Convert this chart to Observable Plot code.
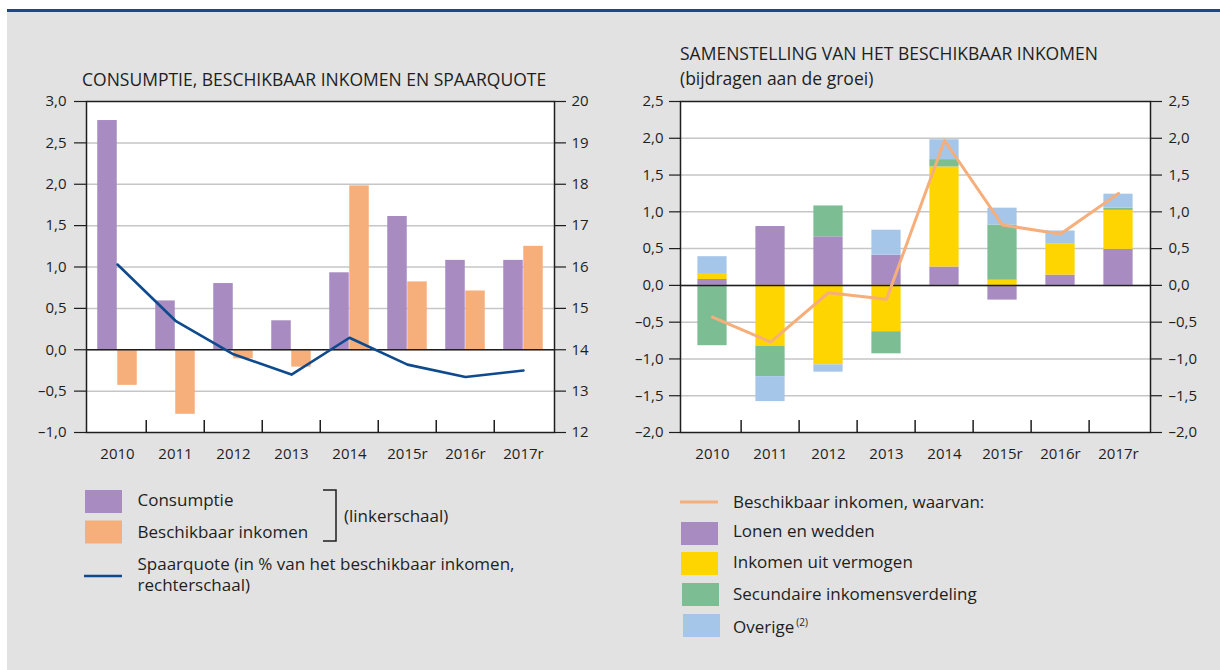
<!DOCTYPE html>
<html><head><meta charset="utf-8">
<script src="https://cdn.jsdelivr.net/npm/d3@7"></script>
<script src="https://cdn.jsdelivr.net/npm/@observablehq/plot@0.6"></script>
<style>
html,body{margin:0;padding:0;background:#fff;}
#root{position:relative;width:1220px;height:670px;overflow:hidden;font-family:"Open Sans",sans-serif;}
#bg{position:absolute;left:7px;top:12px;width:1213px;height:658px;background:#e2e2e2;}
#rule{position:absolute;left:7px;top:9px;width:1213px;height:3px;background:#174a8b;}
</style></head><body><div id="root"><div id="bg"></div><div id="rule"></div></div>
<script>
// ---------- data ----------
const years = ["2010","2011","2012","2013","2014","2015r","2016r","2017r"];
// left chart (linkerschaal)
const consumptie  = [2.77, 0.59, 0.80, 0.35, 0.93, 1.61, 1.08, 1.08];
const beschikbaar = [-0.43, -0.78, -0.11, -0.21, 1.98, 0.82, 0.71, 1.25];
// rechterschaal
const spaarquote  = [16.06, 14.70, 13.89, 13.40, 14.29, 13.64, 13.34, 13.50];
const leftTicks1  = [-1, -0.5, 0, 0.5, 1, 1.5, 2, 2.5, 3];
const rightTicks1 = [12, 13, 14, 15, 16, 17, 18, 19, 20];
// right chart
const seriesNames = ["Lonen en wedden", "Inkomen uit vermogen", "Secundaire inkomensverdeling", "Overige"];
const lonen      = [0.08, 0.80, 0.66, 0.41, 0.25, -0.20, 0.14, 0.49];
const vermogen   = [0.07, -0.83, -1.08, -0.63, 1.36, 0.07, 0.42, 0.53];
const secundair  = [-0.82, -0.41, 0.42, -0.30, 0.10, 0.75, 0.00, 0.03];
const overige    = [0.24, -0.34, -0.10, 0.34, 0.27, 0.23, 0.18, 0.19];
const inkomenLijn = [-0.43, -0.77, -0.10, -0.19, 1.97, 0.82, 0.70, 1.25];
const ticks2 = [-2, -1.5, -1, -0.5, 0, 0.5, 1, 1.5, 2, 2.5];

// ---------- styles ----------
const C = {purple:"#a78bc1", orange:"#f6ae7b", navy:"#0e4a8d", yellow:"#ffd500", green:"#7cbd93", blue:"#a6c6e9", grid:"#c6c6c6", ink:"#1e1e1e"};
const seriesColors = [C.purple, C.yellow, C.green, C.blue];
const font = "'Open Sans', sans-serif";
const fmt = d => d3.format(".1f")(d).replace(".", ",").replace("\u2212", "\u2013").replace("-", "\u2013");
const H = 470, mT = 101, mB = 38, plotH = H - mT - mB;
const root = document.getElementById("root");
function place(el, left) { el.style.position = "absolute"; el.style.left = left + "px"; el.style.top = "0px"; root.appendChild(el); }
const baseStyle = {background: "transparent", fontFamily: font, fontSize: "15px", color: C.ink, overflow: "visible"};

// ---------- left chart ----------
const W1 = 620, mL1 = 86, mR1 = 66, bw1 = (W1 - mL1 - mR1) / years.length, pad1 = (bw1 - 40) / 2;
const rows1 = years.map((y, i) => ({year: y, c: consumptie[i], b: beschikbaar[i], s: spaarquote[i]}));
const left = Plot.plot({
  width: W1, height: H, marginLeft: mL1, marginRight: mR1, marginTop: mT, marginBottom: mB,
  style: baseStyle,
  x: {domain: years, type: "band", padding: 0, axis: null},
  y: {domain: [-1, 3], axis: null},
  marks: [
    Plot.frame({fill: "white", stroke: null}),
    Plot.gridY({ticks: leftTicks1.filter(t => t > -1 && t < 3), stroke: C.grid, strokeOpacity: 1, strokeWidth: 1.5}),
    Plot.barY(rows1, {x: "year", y: "c", fill: C.purple, insetLeft: pad1, insetRight: pad1 + 20}),
    Plot.barY(rows1, {x: "year", y: "b", fill: C.orange, insetLeft: pad1 + 20, insetRight: pad1}),
    Plot.ruleY([0], {stroke: C.ink, strokeWidth: 1.5}),
    Plot.ruleX(years.slice(1), {x: d => d, dx: -bw1 / 2, insetTop: plotH - 12, stroke: C.ink, strokeWidth: 1.5}),
    Plot.frame({stroke: C.ink, strokeWidth: 1.5}),
    Plot.axisY({ticks: leftTicks1, anchor: "left", tickSize: 12, tickPadding: 8, tickFormat: fmt, label: null, stroke: C.ink, strokeWidth: 1.2}),
    Plot.axisX({tickSize: 0, tickPadding: 16, label: null})
  ]
});
place(left, 0);
const leftLine = Plot.plot({
  width: W1, height: H, marginLeft: mL1, marginRight: mR1, marginTop: mT, marginBottom: mB,
  style: baseStyle,
  x: {domain: years, type: "band", padding: 0, axis: null},
  y: {domain: [12, 20], axis: null},
  marks: [
    Plot.line(rows1, {x: "year", y: "s", stroke: C.navy, strokeWidth: 2.6}),
    Plot.axisY({ticks: rightTicks1, anchor: "right", tickSize: 11, tickPadding: 6, tickFormat: d3.format("d"), label: null, stroke: C.ink, strokeWidth: 1.2})
  ]
});
place(leftLine, 0);

// ---------- right chart ----------
const W2 = 600, mL2 = 60, mR2 = 70, bw2 = (W2 - mL2 - mR2) / years.length, pad2 = (bw2 - 30) / 2;
const seriesValues = [lonen, vermogen, secundair, overige];
const table2 = seriesNames.flatMap((s, k) => years.map((y, i) => ({year: y, series: s, value: seriesValues[k][i]})));
const rows2 = years.map((y, i) => ({year: y, v: inkomenLijn[i]}));
const right = Plot.plot({
  width: W2, height: H, marginLeft: mL2, marginRight: mR2, marginTop: mT, marginBottom: mB,
  style: baseStyle,
  x: {domain: years, type: "band", padding: 0, axis: null},
  y: {domain: [-2, 2.5], axis: null},
  color: {domain: seriesNames, range: seriesColors},
  marks: [
    Plot.frame({fill: "white", stroke: null}),
    Plot.gridY({ticks: ticks2.filter(t => t > -2 && t < 2.5), stroke: C.grid, strokeOpacity: 1, strokeWidth: 1.5}),
    Plot.barY(table2, Plot.stackY({x: "year", y: "value", fill: "series", insetLeft: pad2, insetRight: pad2})),
    Plot.ruleY([0], {stroke: C.ink, strokeWidth: 1.5}),
    Plot.line(rows2, {x: "year", y: "v", stroke: C.orange, strokeWidth: 3}),
    Plot.ruleX(years.slice(1), {x: d => d, dx: -bw2 / 2, insetTop: plotH - 12, stroke: C.ink, strokeWidth: 1.5}),
    Plot.frame({stroke: C.ink, strokeWidth: 1.5}),
    Plot.axisY({ticks: ticks2, anchor: "left", tickSize: 11, tickPadding: 6, tickFormat: fmt, label: null, stroke: C.ink, strokeWidth: 1.2}),
    Plot.axisY({ticks: ticks2, anchor: "right", tickSize: 11, tickPadding: 7, tickFormat: fmt, label: null, stroke: C.ink, strokeWidth: 1.2}),
    Plot.axisX({tickSize: 0, tickPadding: 16, label: null})
  ]
});
place(right, 620);

// ---------- titles & legends ----------
const svg = d3.select(root).append("svg").attr("width", 1220).attr("height", 670)
  .style("position", "absolute").style("left", "0px").style("top", "0px")
  .style("font-family", font).style("fill", C.ink);
function txt(x, y, s, size) { return svg.append("text").attr("x", x).attr("y", y).attr("font-size", size).text(s); }
txt(82, 86, "CONSUMPTIE, BESCHIKBAAR INKOMEN EN SPAARQUOTE", 17.5);
txt(680, 60, "SAMENSTELLING VAN HET BESCHIKBAAR INKOMEN", 17.5);
txt(680, 84.5, "(bijdragen aan de groei)", 17.5);

// left legend
svg.append("rect").attr("x", 85).attr("y", 490).attr("width", 37).attr("height", 23).attr("fill", C.purple);
svg.append("rect").attr("x", 85).attr("y", 520.5).attr("width", 37).attr("height", 23).attr("fill", C.orange);
svg.append("line").attr("x1", 84).attr("x2", 122).attr("y1", 576).attr("y2", 576).attr("stroke", C.navy).attr("stroke-width", 2.6);
txt(137.5, 506, "Consumptie", 17);
txt(137.5, 537.5, "Beschikbaar inkomen", 17);
txt(137.5, 570, "Spaarquote (in % van het beschikbaar inkomen,", 17);
txt(137.5, 591, "rechterschaal)", 17);
svg.append("path").attr("d", "M323,490H336V541H323").attr("fill", "none").attr("stroke", C.ink).attr("stroke-width", 1.5);
txt(344, 521.5, "(linkerschaal)", 17);

// right legend
svg.append("line").attr("x1", 680).attr("x2", 718).attr("y1", 502).attr("y2", 502).attr("stroke", C.orange).attr("stroke-width", 3);
txt(733, 508, "Beschikbaar inkomen, waarvan:", 17);
const legY = [522, 552, 583, 614];
const legX = [681, 681, 682, 683];
const legBase = [536.5, 568, 600, 633];
seriesNames.forEach((s, k) => {
  svg.append("rect").attr("x", legX[k]).attr("y", legY[k]).attr("width", 37).attr("height", 23).attr("fill", seriesColors[k]);
  const t = txt(733, legBase[k], s, 17);
  if (k === 3) t.append("tspan").attr("font-size", 10).attr("dx", 2).attr("dy", -7).text("(2)");
});
</script></body></html>
